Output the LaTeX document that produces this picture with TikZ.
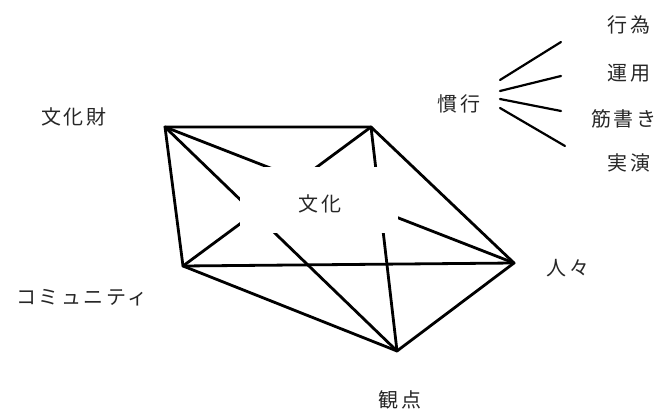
\documentclass[tikz,border=0pt]{standalone}
\usepackage{fontspec}
\newfontfamily\jp[LetterSpace=12]{Noto Sans CJK JP}
\begin{document}
\begin{tikzpicture}[x=1pt,y=-1pt,
  lbl/.style={font=\jp\fontsize{20}{23}\selectfont, text=black!85, inner sep=0pt, anchor=center},
  edge/.style={line width=2.8pt, line cap=round, line join=round},
  fan/.style={line width=2.2pt, line cap=round}]
\useasboundingbox (0,0) rectangle (659,412);
% vertices
\coordinate (A) at (165,127);
\coordinate (B) at (371,127);
\coordinate (C) at (514,263);
\coordinate (D) at (397,351);
\coordinate (E) at (183,266);
% diagonals
\draw[edge] (A) -- (C);
\draw[edge] (A) -- (D);
\draw[edge] (B) -- (D);
\draw[edge] (B) -- (E);
% white area behind centre label
\fill[white] (240,167) rectangle (398,233);
\node[lbl] (center) at (320,204) {文化};
% perimeter and base
\draw[edge] (A) -- (B) -- (C) -- (D) -- (E) -- cycle;
\draw[edge] (E) -- (C);
% labels
\node[lbl] (bunkazai) at (74,117) {文化財};
\node[lbl] (community) at (82,298) {コミュニティ};
\node[lbl] (hitobito) at (568,268) {人々};
\node[lbl] (kanten) at (400,400) {観点};
\node[lbl] (kanko) at (459,104) {慣行};
\node[lbl] (koui) at (629,25) {行為};
\node[lbl] (unyou) at (629,73) {運用};
\node[lbl] (sujigaki) at (624,119) {筋書き};
\node[lbl] (jitsuen) at (629,163) {実演};
% fan
\coordinate (f1a) at (500,80);  \coordinate (f1b) at (561,42);
\coordinate (f2a) at (500,91);  \coordinate (f2b) at (561,76);
\coordinate (f3a) at (500,99);  \coordinate (f3b) at (561,111);
\coordinate (f4a) at (500,108); \coordinate (f4b) at (565,146);
\draw[fan] (f1a) -- (f1b);
\draw[fan] (f2a) -- (f2b);
\draw[fan] (f3a) -- (f3b);
\draw[fan] (f4a) -- (f4b);
\end{tikzpicture}
\end{document}
